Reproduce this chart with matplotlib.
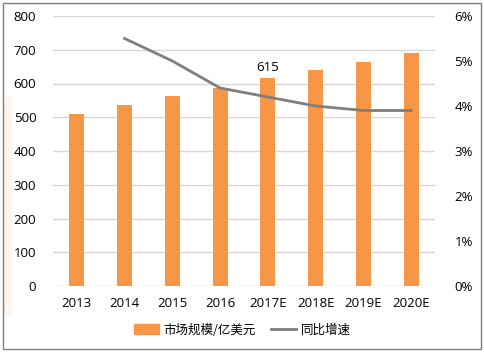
import numpy as np
import matplotlib
matplotlib.use("Agg")
import matplotlib.pyplot as plt
from matplotlib.patches import Rectangle
from matplotlib.lines import Line2D
from matplotlib.ticker import FuncFormatter

plt.rcParams['font.family'] = ['Open Sans', 'Noto Sans CJK SC', 'DejaVu Sans']

# Data
years = ['2013', '2014', '2015', '2016', '2017E', '2018E', '2019E', '2020E']
market_size = [509, 536, 563, 588, 615, 639, 664, 689]       # 市场规模/亿美元
growth_years = ['2014', '2015', '2016', '2017E', '2018E', '2019E', '2020E']
growth_pct = [5.5, 5.0, 4.4, 4.2, 4.0, 3.9, 3.9]             # 同比增速 (%)

bar_color = '#F79646'
line_color = '#7F7F7F'
grid_color = '#D9D9D9'

fig = plt.figure(figsize=(4.85, 3.55), dpi=100)
ax = fig.add_axes([53 / 485, 1 - 286 / 355, 382 / 485, 270 / 355])

x = np.arange(len(years))
ax.bar(x, market_size, width=0.31, color=bar_color, zorder=2)
ax.set_xlim(-0.5, len(years) - 0.5)
ax.set_ylim(0, 800)
ax.set_yticks(range(0, 801, 100))
ax.set_xticks(x)
ax.set_xticklabels(years)
ax.grid(axis='y', color=grid_color, linewidth=1, zorder=0)
ax.set_axisbelow(True)
for s in ax.spines.values():
    s.set_visible(False)
ax.tick_params(axis='both', length=0, labelsize=9.5, colors='#000000')
ax.tick_params(axis='y', pad=12)
ax.tick_params(axis='x', pad=8)

# label on 2017E
i17 = years.index('2017E')
ax.text(i17, market_size[i17] + 14, str(market_size[i17]), ha='center', va='bottom', fontsize=9.5)

ax2 = ax.twinx()
gx = [years.index(y) for y in growth_years]
ax2.plot(gx, growth_pct, color=line_color, linewidth=2, zorder=3)
ax2.set_ylim(0, 6)
ax2.set_yticks(range(0, 7))
ax2.yaxis.set_major_formatter(FuncFormatter(lambda v, _: f'{v:.0f}%'))
for s in ax2.spines.values():
    s.set_visible(False)
ax2.tick_params(axis='y', length=0, labelsize=9.5, pad=14)

# legend
handles = [Rectangle((0, 0), 1, 1, color=bar_color),
           Line2D([0], [0], color=line_color, linewidth=2)]
fig.legend(handles, ['市场规模/亿美元', '同比增速'], loc='center',
           bbox_to_anchor=(0.5, 1 - 330 / 355), ncol=2, frameon=False,
           prop={'family': ['Noto Sans CJK SC'], 'size': 9},
           handlelength=2.0, handleheight=0.9, columnspacing=1.2, handletextpad=0.4)

# faint strip on the left and outer frame
fig.patches.append(Rectangle((4 / 485, 1 - 315 / 355), 8 / 485, 218 / 355,
                             transform=fig.transFigure, facecolor='#FDF5EE',
                             edgecolor='none', zorder=0))
fig.patches.append(Rectangle((3 / 485, 1 - 349 / 355), 478 / 485, 346 / 355,
                             transform=fig.transFigure, facecolor='none',
                             edgecolor='#7F7F7F', linewidth=1))

fig.savefig('out.png', dpi=100)
